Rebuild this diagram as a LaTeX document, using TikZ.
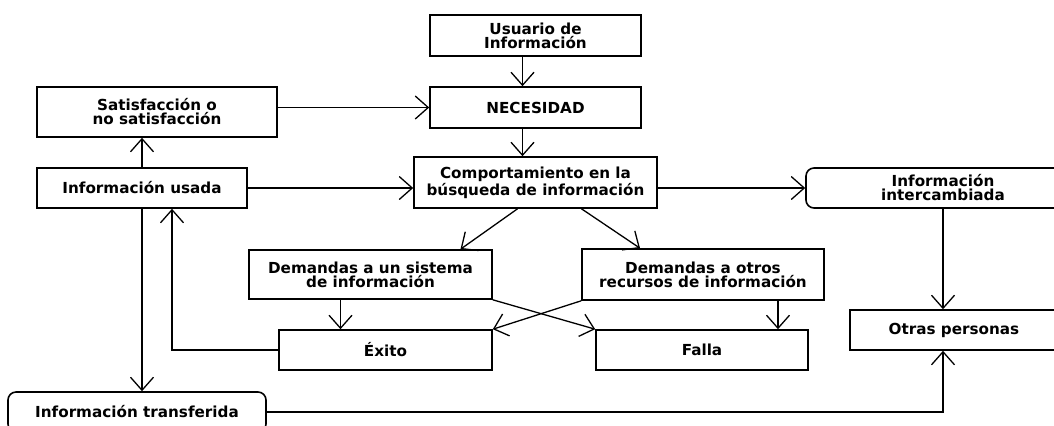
\documentclass[tikz,border=0pt]{standalone}
\usepackage{fontspec}
\newfontfamily\boxfont{DejaVu Sans}
\usetikzlibrary{arrows.meta}

\tikzset{
  box/.style={draw, line width=0.8pt, align=center, inner sep=0pt,
    font=\boxfont\bfseries\fontsize{7.6}{7}\selectfont},
  roundbox/.style={box, rounded corners=4pt},
  flow/.style={-{Straight Barb[length=6.5pt, width=11.5pt]}, line width=0.65pt}
}

\begin{document}
\begin{tikzpicture}[x=0.5pt, y=-0.5pt]
\useasboundingbox (0,0) rectangle (1054,425);

% Top column
\node[box, minimum width=105.5pt, minimum height=20.5pt] (usuario) at (535.5,35.5) {Usuario de\\Información};
\node[box, minimum width=105.5pt, minimum height=20.5pt] (necesidad) at (535.5,107.5) {NECESIDAD};
\node[box, minimum width=121.5pt, minimum height=25.5pt] (comport) at (535.5,182.5) {Comportamiento en la\\búsqueda de información};

% Left column
\node[box, minimum width=120pt, minimum height=25pt] (satisf) at (157,112) {Satisfacción o\\no satisfacción};
\node[box, minimum width=105pt, minimum height=20pt] (usada) at (142,188) {Información usada};
\node[roundbox, minimum width=129pt, minimum height=20pt] (transf) at (137,412) {Información transferida};

% Demands and results
\node[box, minimum width=121.5pt, minimum height=24.5pt] (sistema) at (370.5,274.5) {Demandas a un sistema\\de información};
\node[box, minimum width=121pt, minimum height=25.5pt] (otros) at (703,274.5) {Demandas a otros\\recursos de información};
\node[box, minimum width=106.5pt, minimum height=20pt] (exito) at (385.5,350) {Éxito};
\node[box, minimum width=106pt, minimum height=20pt] (falla) at (702,350) {Falla};

% Right column
\node[roundbox, minimum width=137pt, minimum height=20pt] (intercambiada) at (943,188) {Información\\intercambiada};
\node[box, minimum width=104pt, minimum height=20pt] (otras) at (954,330) {Otras personas};

% Arrows
\draw[flow] ([xshift=-6.5pt]usuario.south) -- ([xshift=-6.5pt]usuario.south |- necesidad.north);
\draw[flow] ([xshift=-6.5pt]necesidad.south) -- ([xshift=-6.5pt]necesidad.south |- comport.north);
\draw[flow] (satisf.east |- necesidad.west) -- (necesidad.west);
\draw[flow] (usada.east) -- (comport.west |- usada.east);
\draw[flow] (usada.north) -- (usada.north |- satisf.south);
\draw[flow] (usada.south) -- (usada.south |- transf.north);
\draw[flow] ([xshift=-9pt]comport.south) -- ([xshift=45pt]sistema.north);
\draw[flow] ([xshift=23pt]comport.south) -- ([xshift=-31.5pt]otros.north);
\draw[flow] ([xshift=-15pt]sistema.south) -- ([xshift=-15pt]sistema.south |- exito.north);
\draw[flow] ([xshift=37.5pt]otros.south) -- ([xshift=37.5pt]otros.south |- falla.north);
\draw[flow] (sistema.south east) -- (falla.north west);
\draw[flow] (otros.south west) -- (exito.north east);
\draw[flow] (comport.east |- intercambiada.west) -- (intercambiada.west);
\draw[flow] (intercambiada.south) -- (intercambiada.south |- otras.north);
\draw[flow] (exito.west) -| ([xshift=15pt]usada.south);
\draw[flow] (transf.east) -| (intercambiada.south |- otras.south);
\end{tikzpicture}
\end{document}
